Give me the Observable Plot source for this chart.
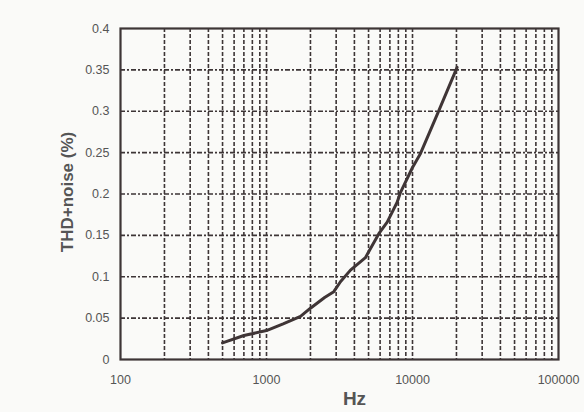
<!DOCTYPE html>
<html>
<head>
<meta charset="utf-8">
<script src="https://cdn.jsdelivr.net/npm/d3@7"></script>
<script src="https://cdn.jsdelivr.net/npm/@observablehq/plot@0.6"></script>
<style>
  html, body { margin: 0; padding: 0; background: #fafaf8; }
  #chart { width: 584px; height: 412px; position: relative; }
  svg { font-family: "Liberation Sans", Arial, sans-serif; }
</style>
</head>
<body>
<div id="chart"></div>
<script>
const freq = [500, 700, 1000, 1300, 1710, 2000, 2500, 2890, 3210, 3760, 4760, 5000, 5880, 6710, 7850, 8280, 10000, 11350, 14750, 20200];
const thd  = [0.020, 0.029, 0.035, 0.043, 0.052, 0.062, 0.075, 0.082, 0.094, 0.108, 0.123, 0.130, 0.152, 0.166, 0.190, 0.202, 0.232, 0.249, 0.296, 0.353];

const xTicks = [100, 1000, 10000, 100000];
const xGrid = [200,300,400,500,600,700,800,900,1000,2000,3000,4000,5000,6000,7000,8000,9000,10000,20000,30000,40000,50000,60000,70000,80000,90000];
const yTicks = [0, 0.05, 0.1, 0.15, 0.2, 0.25, 0.3, 0.35, 0.4];
const yGrid = [0.05, 0.1, 0.15, 0.2, 0.25, 0.3, 0.35];

const data = freq.map((f, i) => ({f, v: thd[i]}));
const ink = "#3d3536";

const chart = Plot.plot({
  width: 584,
  height: 412,
  marginLeft: 120,
  marginRight: 26,
  marginTop: 28,
  marginBottom: 53,
  style: {background: "#fafaf8", fontSize: "12px", color: "#555"},
  x: {type: "log", domain: [100, 100000]},
  y: {domain: [0, 0.4]},
  marks: [
    Plot.ruleX(xGrid, {stroke: ink, strokeWidth: 1.6, strokeDasharray: "4,2", strokeOpacity: 1}),
    Plot.ruleY(yGrid, {stroke: ink, strokeWidth: 1.6, strokeDasharray: "5,2,2,2", strokeOpacity: 1}),
    Plot.frame({stroke: ink, strokeWidth: 2.2}),
    Plot.axisX(xTicks, {tickSize: 0, tickPadding: 16, tickFormat: d => String(d), fill: "#555", fontSize: 12.5, label: null}),
    Plot.axisY(yTicks, {tickSize: 0, tickPadding: 11, tickFormat: d => String(d), fill: "#555", fontSize: 12.5, label: null}),
    Plot.text(["Hz"], {frameAnchor: "bottom", dx: 15, dy: 45, fontSize: 19, fontWeight: "bold", fill: "#555"}),
    Plot.text(["THD+noise (%)"], {frameAnchor: "left", textAnchor: "middle", dx: -53, dy: -2, rotate: -90, fontSize: 17, fontWeight: "bold", fill: "#555"}),
    Plot.line(data, {x: "f", y: "v", stroke: "#3f3536", strokeWidth: 3})
  ]
});
document.getElementById("chart").appendChild(chart);
</script>
</body>
</html>
